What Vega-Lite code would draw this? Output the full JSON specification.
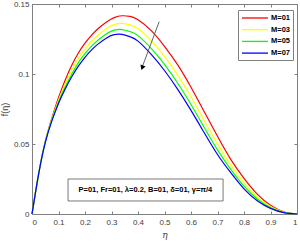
{
  "$schema": "https://vega.github.io/schema/vega-lite/v6.json",
  "width": 265,
  "height": 210,
  "autosize": "none",
  "padding": {"left": 32, "top": 4, "right": 3, "bottom": 29},
  "background": "white",
  "config": {
    "view": {"stroke": null},
    "axis": {
      "domainColor": "#808080",
      "tickColor": "#808080",
      "labelColor": "#404040",
      "labelFont": "Liberation Sans",
      "labelFontSize": 8,
      "grid": false,
      "tickSize": -3,
      "titleColor": "#404040",
      "titleFontWeight": "normal"
    }
  },
  "datasets": {
    "curves": [
      {"eta":0,"f":0,"M":"M=01"},{"eta":0.025,"f":0.0285,"M":"M=01"},{"eta":0.05,"f":0.0518,"M":"M=01"},{"eta":0.075,"f":0.0685,"M":"M=01"},{"eta":0.1,"f":0.083,"M":"M=01"},{"eta":0.125,"f":0.0955,"M":"M=01"},{"eta":0.15,"f":0.1062,"M":"M=01"},{"eta":0.175,"f":0.115,"M":"M=01"},{"eta":0.2,"f":0.122,"M":"M=01"},{"eta":0.225,"f":0.1278,"M":"M=01"},{"eta":0.25,"f":0.1325,"M":"M=01"},{"eta":0.28,"f":0.137,"M":"M=01"},{"eta":0.31,"f":0.1403,"M":"M=01"},{"eta":0.34,"f":0.1416,"M":"M=01"},{"eta":0.37,"f":0.1411,"M":"M=01"},{"eta":0.4,"f":0.1388,"M":"M=01"},{"eta":0.45,"f":0.131,"M":"M=01"},{"eta":0.5,"f":0.1198,"M":"M=01"},{"eta":0.55,"f":0.1065,"M":"M=01"},{"eta":0.6,"f":0.0905,"M":"M=01"},{"eta":0.65,"f":0.073,"M":"M=01"},{"eta":0.7,"f":0.0555,"M":"M=01"},{"eta":0.75,"f":0.039,"M":"M=01"},{"eta":0.8,"f":0.0255,"M":"M=01"},{"eta":0.85,"f":0.0142,"M":"M=01"},{"eta":0.9,"f":0.0062,"M":"M=01"},{"eta":0.95,"f":0.0016,"M":"M=01"},{"eta":1,"f":0,"M":"M=01"},
      {"eta":0,"f":0,"M":"M=03"},{"eta":0.025,"f":0.0285,"M":"M=03"},{"eta":0.05,"f":0.0515,"M":"M=03"},{"eta":0.075,"f":0.0678,"M":"M=03"},{"eta":0.1,"f":0.0813,"M":"M=03"},{"eta":0.125,"f":0.0928,"M":"M=03"},{"eta":0.15,"f":0.1028,"M":"M=03"},{"eta":0.175,"f":0.1112,"M":"M=03"},{"eta":0.2,"f":0.1178,"M":"M=03"},{"eta":0.225,"f":0.1234,"M":"M=03"},{"eta":0.25,"f":0.1279,"M":"M=03"},{"eta":0.28,"f":0.1324,"M":"M=03"},{"eta":0.31,"f":0.1353,"M":"M=03"},{"eta":0.34,"f":0.1361,"M":"M=03"},{"eta":0.37,"f":0.1351,"M":"M=03"},{"eta":0.4,"f":0.1325,"M":"M=03"},{"eta":0.45,"f":0.1239,"M":"M=03"},{"eta":0.5,"f":0.1126,"M":"M=03"},{"eta":0.55,"f":0.0992,"M":"M=03"},{"eta":0.6,"f":0.0837,"M":"M=03"},{"eta":0.65,"f":0.0668,"M":"M=03"},{"eta":0.7,"f":0.0501,"M":"M=03"},{"eta":0.75,"f":0.0351,"M":"M=03"},{"eta":0.8,"f":0.0224,"M":"M=03"},{"eta":0.85,"f":0.0122,"M":"M=03"},{"eta":0.9,"f":0.0053,"M":"M=03"},{"eta":0.95,"f":0.0014,"M":"M=03"},{"eta":1,"f":0,"M":"M=03"},
      {"eta":0,"f":0,"M":"M=05"},{"eta":0.025,"f":0.0285,"M":"M=05"},{"eta":0.05,"f":0.0512,"M":"M=05"},{"eta":0.075,"f":0.0671,"M":"M=05"},{"eta":0.1,"f":0.08,"M":"M=05"},{"eta":0.125,"f":0.0907,"M":"M=05"},{"eta":0.15,"f":0.1,"M":"M=05"},{"eta":0.175,"f":0.1081,"M":"M=05"},{"eta":0.2,"f":0.1145,"M":"M=05"},{"eta":0.225,"f":0.1199,"M":"M=05"},{"eta":0.25,"f":0.1243,"M":"M=05"},{"eta":0.28,"f":0.1286,"M":"M=05"},{"eta":0.31,"f":0.1313,"M":"M=05"},{"eta":0.34,"f":0.1317,"M":"M=05"},{"eta":0.37,"f":0.1303,"M":"M=05"},{"eta":0.4,"f":0.1274,"M":"M=05"},{"eta":0.45,"f":0.1183,"M":"M=05"},{"eta":0.5,"f":0.1069,"M":"M=05"},{"eta":0.55,"f":0.0934,"M":"M=05"},{"eta":0.6,"f":0.0782,"M":"M=05"},{"eta":0.65,"f":0.0618,"M":"M=05"},{"eta":0.7,"f":0.0458,"M":"M=05"},{"eta":0.75,"f":0.0319,"M":"M=05"},{"eta":0.8,"f":0.0199,"M":"M=05"},{"eta":0.85,"f":0.0107,"M":"M=05"},{"eta":0.9,"f":0.0046,"M":"M=05"},{"eta":0.95,"f":0.0012,"M":"M=05"},{"eta":1,"f":0,"M":"M=05"},
      {"eta":0,"f":0,"M":"M=07"},{"eta":0.025,"f":0.0285,"M":"M=07"},{"eta":0.05,"f":0.051,"M":"M=07"},{"eta":0.075,"f":0.0665,"M":"M=07"},{"eta":0.1,"f":0.079,"M":"M=07"},{"eta":0.125,"f":0.0892,"M":"M=07"},{"eta":0.15,"f":0.098,"M":"M=07"},{"eta":0.175,"f":0.1056,"M":"M=07"},{"eta":0.2,"f":0.1119,"M":"M=07"},{"eta":0.225,"f":0.1172,"M":"M=07"},{"eta":0.25,"f":0.1215,"M":"M=07"},{"eta":0.28,"f":0.1256,"M":"M=07"},{"eta":0.31,"f":0.1281,"M":"M=07"},{"eta":0.34,"f":0.1283,"M":"M=07"},{"eta":0.37,"f":0.1266,"M":"M=07"},{"eta":0.4,"f":0.1235,"M":"M=07"},{"eta":0.45,"f":0.114,"M":"M=07"},{"eta":0.5,"f":0.1025,"M":"M=07"},{"eta":0.55,"f":0.089,"M":"M=07"},{"eta":0.6,"f":0.074,"M":"M=07"},{"eta":0.65,"f":0.058,"M":"M=07"},{"eta":0.7,"f":0.0425,"M":"M=07"},{"eta":0.75,"f":0.0295,"M":"M=07"},{"eta":0.8,"f":0.018,"M":"M=07"},{"eta":0.85,"f":0.0095,"M":"M=07"},{"eta":0.9,"f":0.004,"M":"M=07"},{"eta":0.95,"f":0.001,"M":"M=07"},{"eta":1,"f":0,"M":"M=07"}
    ],
    "note": [
      {"x1": 0.136, "x2": 0.721, "y1": 0.0093, "y2": 0.025, "xc": 0.428, "yc": 0.0171, "label": "P=01, Fr=01, λ=0.2, B=01, δ=01, γ=π/4"}
    ],
    "arrow": [
      {"x1": 0.48, "y1": 0.1374, "x2": 0.415, "y2": 0.1045, "hx": 0.416, "hy": 0.1045}
    ]
  },
  "layer": [
    {
      "data": {"name": "curves"},
      "mark": {"type": "line", "strokeWidth": 1.2, "interpolate": "natural"},
      "encoding": {
        "x": {
          "field": "eta", "type": "quantitative",
          "scale": {"domain": [0, 1], "nice": false},
          "axis": {
            "orient": "bottom",
            "values": [0, 0.1, 0.2, 0.3, 0.4, 0.5, 0.6, 0.7, 0.8, 0.9, 1],
            "format": ".1~f",
            "labelPadding": 7,
            "title": "η",
            "titleFont": "DejaVu Serif",
            "titleFontStyle": "italic",
            "titleFontSize": 9,
            "titlePadding": 4
          }
        },
        "y": {
          "field": "f", "type": "quantitative",
          "scale": {"domain": [0, 0.15], "nice": false},
          "axis": {
            "orient": "left",
            "values": [0, 0.05, 0.1, 0.15],
            "format": ".2~f",
            "labelPadding": 6,
            "title": "f(η)",
            "titleFont": "Liberation Sans",
            "titleFontSize": 9,
            "titlePadding": 4
          }
        },
        "color": {
          "field": "M", "type": "nominal",
          "scale": {"domain": ["M=01", "M=03", "M=05", "M=07"], "range": ["#ff0000", "#ffff00", "#00ff00", "#0000ff"]},
          "legend": {
            "orient": "none",
            "legendX": 206,
            "legendY": 6,
            "title": null,
            "symbolType": "M-3.25,0H3.25",
            "symbolSize": 64,
            "symbolStrokeWidth": 1.3,
            "symbolOffset": 9,
            "labelOffset": 11,
            "labelFont": "Liberation Sans",
            "labelFontWeight": "bold",
            "labelFontSize": 7.5,
            "labelColor": "#000000",
            "rowPadding": 2.7,
            "padding": 3,
            "strokeColor": "#808080",
            "fillColor": "white"
          }
        }
      }
    },
    {
      "data": {"name": "note"},
      "mark": {"type": "rect", "fill": "white", "stroke": "#555555", "strokeWidth": 0.8},
      "encoding": {
        "x": {"field": "x1", "type": "quantitative", "axis": {"orient": "top", "values": [0, 0.1, 0.2, 0.3, 0.4, 0.5, 0.6, 0.7, 0.8, 0.9, 1], "labels": false, "title": null}},
        "x2": {"field": "x2"},
        "y": {"field": "y1", "type": "quantitative", "axis": {"orient": "right", "values": [0, 0.05, 0.1, 0.15], "labels": false, "title": null}},
        "y2": {"field": "y2"}
      }
    },
    {
      "data": {"name": "note"},
      "mark": {"type": "text", "font": "Liberation Sans", "fontWeight": "bold", "fontSize": 7.5, "color": "#000000", "align": "center", "baseline": "middle"},
      "encoding": {
        "x": {"field": "xc", "type": "quantitative", "axis": null},
        "y": {"field": "yc", "type": "quantitative", "axis": null},
        "text": {"field": "label"}
      }
    },
    {
      "data": {"name": "arrow"},
      "mark": {"type": "rule", "color": "#555555", "strokeWidth": 0.9},
      "encoding": {
        "x": {"field": "x1", "type": "quantitative", "axis": null},
        "y": {"field": "y1", "type": "quantitative", "axis": null},
        "x2": {"field": "x2"},
        "y2": {"field": "y2"}
      }
    },
    {
      "data": {"name": "arrow"},
      "mark": {"type": "point", "shape": "triangle-down", "filled": true, "color": "#000000", "size": 30, "angle": 20, "opacity": 1},
      "encoding": {
        "x": {"field": "hx", "type": "quantitative", "axis": null},
        "y": {"field": "hy", "type": "quantitative", "axis": null}
      }
    }
  ],
  "resolve": {"axis": {"x": "independent", "y": "independent"}}
}
